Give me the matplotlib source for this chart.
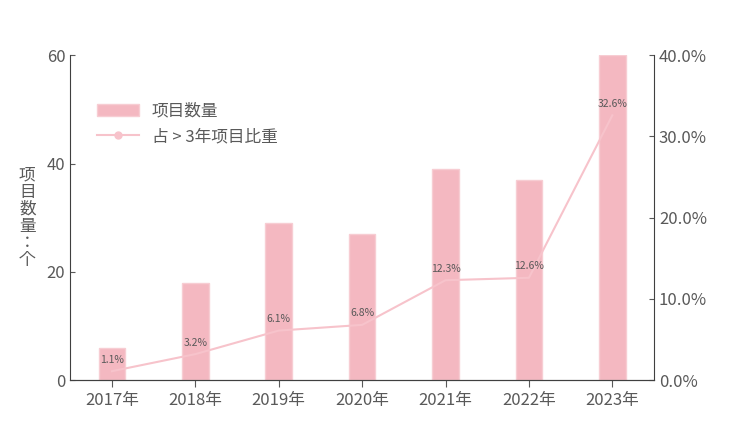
import matplotlib.pyplot as plt
from matplotlib.ticker import FuncFormatter
from matplotlib.lines import Line2D

plt.rcParams['font.family'] = ['Noto Sans CJK JP', 'Noto Sans CJK SC', 'Noto Sans CJK TC',
                               'Noto Sans CJK KR', 'DejaVu Sans']

years = ['2017年', '2018年', '2019年', '2020年', '2021年', '2022年', '2023年']
counts = [6, 18, 29, 27, 39, 37, 60]
share = [1.1, 3.2, 6.1, 6.8, 12.3, 12.6, 32.6]

bar_color = '#f4b8c1'
line_color = '#f7c3cb'
text_color = '#595959'

fig = plt.figure(figsize=(7.39, 4.42), dpi=100)
ax = fig.add_axes([0.095, 0.14, 0.79, 0.735])
x = range(len(years))
ax.bar(x, counts, width=0.32, color=bar_color, edgecolor='#f7cdd3', label='项目数量')
ax.set_ylim(0, 60)
ax.set_yticks([0, 20, 40, 60])
ax.set_xlim(-0.5, len(years) - 0.5)
ax.set_xticks(list(x))
ax.set_xticklabels(years)
ax.set_ylabel('项\n目\n数\n量\n：\n个', rotation=0, color=text_color, fontsize=12,
              labelpad=14, va='center', linespacing=1.0)

ax2 = ax.twinx()
ax2.plot(x, share, color=line_color, lw=1.5)
ax2.set_ylim(0, 40)
ax2.set_yticks([0, 10, 20, 30, 40])
ax2.yaxis.set_major_formatter(FuncFormatter(lambda v, p: f'{v:.1f}%'))
for i, v in enumerate(share):
    ax2.text(i, v + 0.8, f'{v}%', ha='center', va='bottom', fontsize=7.5, color=text_color)

for a in (ax, ax2):
    a.spines['top'].set_visible(False)
    a.tick_params(colors=text_color, labelsize=12, direction='in')
    for s in a.spines.values():
        s.set_color('#404040')
ax2.spines['left'].set_visible(False)
ax.spines['right'].set_visible(False)
ax.tick_params(axis='x', length=5, direction='out')

h1, l1 = ax.get_legend_handles_labels()
h2 = [Line2D([], [], color=line_color, lw=1.5, marker='o', markersize=5)]
ax.legend(h1 + h2, l1 + ['占 > 3年项目比重'], loc='upper left', bbox_to_anchor=(0.02, 0.9),
          frameon=False, fontsize=12, labelcolor=text_color, handlelength=2.5)

fig.savefig('out.png')
